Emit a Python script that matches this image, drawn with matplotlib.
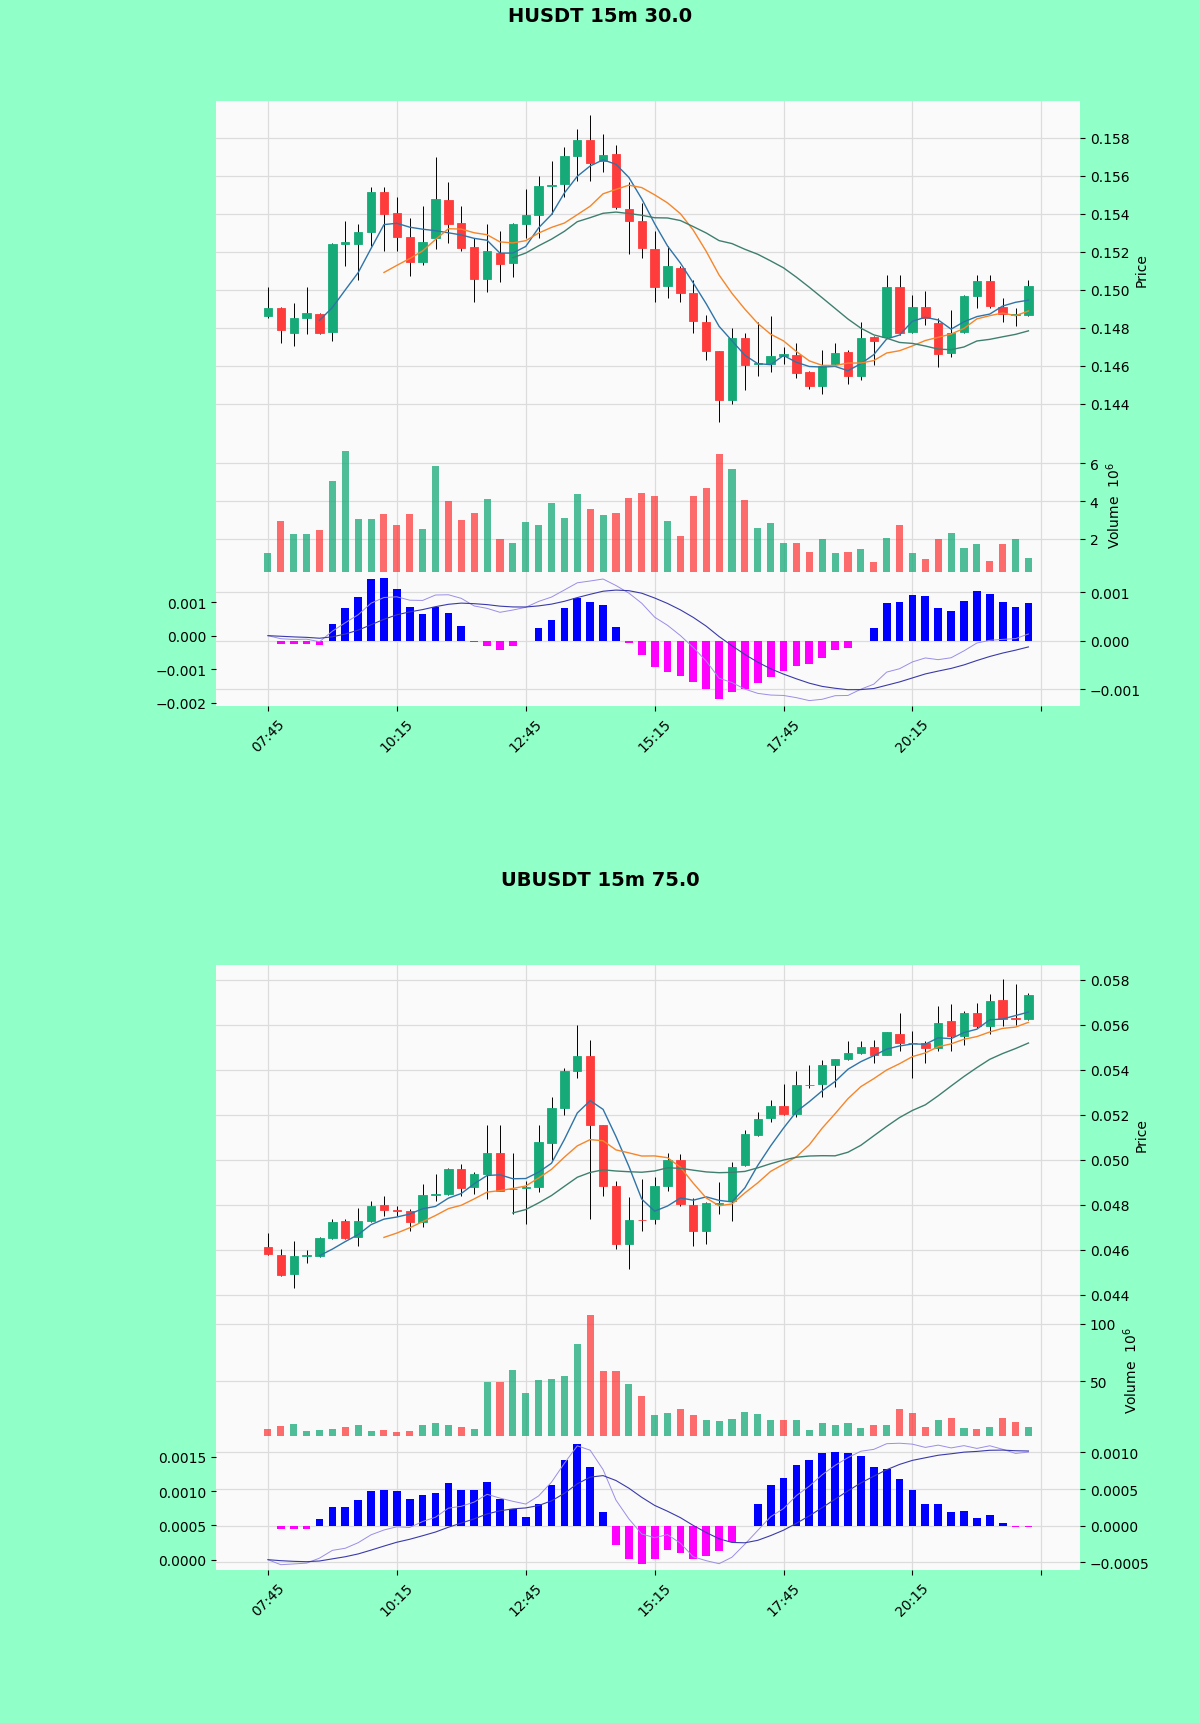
import numpy as np
import pandas as pd
import matplotlib
matplotlib.use("Agg")
import matplotlib.pyplot as plt
from matplotlib.ticker import MultipleLocator

BG = "#90ffc8"
FACE = "#fafafa"
UP = "#16aa78"
DOWN = "#fe3c3c"
GRID = "#dcdcdc"

tick_labels = ["07:45", "10:15", "12:45", "15:15", "17:45", "20:15", ""]

# ---- HUSDT 15m ----
h_open = [0.14863, 0.14903, 0.14774, 0.14854, 0.14873, 0.14776, 0.15242, 0.15242, 0.15306, 0.15516,
          0.15405, 0.15277, 0.15147, 0.15274, 0.15475, 0.15353, 0.15224, 0.15057, 0.15194, 0.15142,
          0.15348, 0.15394, 0.15545, 0.15556, 0.15706, 0.15786, 0.15676, 0.15715, 0.15424, 0.15362,
          0.15212, 0.15018, 0.15115, 0.14983, 0.14833, 0.14677, 0.14418, 0.14744, 0.14608, 0.14612,
          0.14651, 0.14656, 0.14568, 0.14492, 0.14607, 0.14674, 0.14547, 0.14753, 0.14753, 0.15013,
          0.14776, 0.14912, 0.14824, 0.14665, 0.14780, 0.14965, 0.15048, 0.14912, 0.14868, 0.14868]
h_high = [0.15013, 0.14910, 0.14930, 0.15014, 0.14880, 0.15245, 0.15362, 0.15345, 0.15542, 0.15540,
          0.15490, 0.15380, 0.15442, 0.15698, 0.15565, 0.15442, 0.15270, 0.15345, 0.15309, 0.15353,
          0.15530, 0.15601, 0.15680, 0.15751, 0.15848, 0.15918, 0.15821, 0.15760, 0.15565, 0.15459,
          0.15309, 0.15230, 0.15124, 0.15053, 0.14868, 0.14680, 0.14801, 0.14771, 0.14833, 0.14860,
          0.14700, 0.14718, 0.14572, 0.14683, 0.14718, 0.14683, 0.14833, 0.14755, 0.15080, 0.15080,
          0.14974, 0.14991, 0.14850, 0.14894, 0.14974, 0.15080, 0.15080, 0.14956, 0.14903, 0.15053]
h_low = [0.14854, 0.14718, 0.14704, 0.14767, 0.14767, 0.14730, 0.15124, 0.15053, 0.15230, 0.15203,
         0.15203, 0.15071, 0.15129, 0.15212, 0.15247, 0.15203, 0.14938, 0.14988, 0.15041, 0.15066,
         0.15274, 0.15274, 0.15398, 0.15486, 0.15574, 0.15574, 0.15618, 0.15424, 0.15186, 0.15168,
         0.14938, 0.14956, 0.14938, 0.14771, 0.14630, 0.14303, 0.14400, 0.14471, 0.14547, 0.14568,
         0.14612, 0.14536, 0.14480, 0.14453, 0.14603, 0.14506, 0.14524, 0.14603, 0.14744, 0.14760,
         0.14771, 0.14815, 0.14594, 0.14647, 0.14771, 0.14903, 0.14903, 0.14833, 0.14811, 0.14864]
h_close = [0.14903, 0.14788, 0.14850, 0.14880, 0.14774, 0.15242, 0.15250, 0.15306, 0.15516, 0.15401,
           0.15277, 0.15147, 0.15253, 0.15477, 0.15345, 0.15221, 0.15057, 0.15203, 0.15138, 0.15348,
           0.15394, 0.15548, 0.15552, 0.15706, 0.15786, 0.15666, 0.15710, 0.15433, 0.15362, 0.15221,
           0.15013, 0.15124, 0.14983, 0.14836, 0.14677, 0.14418, 0.14744, 0.14603, 0.14614, 0.14651,
           0.14660, 0.14564, 0.14492, 0.14600, 0.14668, 0.14547, 0.14748, 0.14730, 0.15013, 0.14771,
           0.14912, 0.14850, 0.14660, 0.14771, 0.14965, 0.15048, 0.14917, 0.14871, 0.14870, 0.15021]
h_vol = [1.22, 2.94, 2.23, 2.23, 2.44, 5.04, 6.68, 3.07, 3.03, 3.30,
         2.71, 3.30, 2.50, 5.84, 4.01, 3.00, 3.39, 4.13, 2.00, 1.75,
         2.91, 2.73, 3.88, 3.08, 4.40, 3.56, 3.24, 3.39, 4.15, 4.45,
         4.28, 2.94, 2.14, 4.28, 4.67, 6.50, 5.70, 4.06, 2.59, 2.85,
         1.75, 1.79, 1.31, 2.00, 1.22, 1.31, 1.43, 0.77, 2.05, 2.73,
         1.22, 0.90, 1.96, 2.28, 1.48, 1.70, 0.84, 1.70, 2.00, 0.99]
h_hist = [0.0, -0.00007, -0.00007, -0.00007, -0.00008, 0.00034, 0.00068, 0.00090, 0.00128, 0.00129,
          0.00107, 0.00069, 0.00055, 0.00069, 0.00057, 0.00030, -0.00003, -0.00010, -0.00020, -0.00010,
          -0.00001, 0.00026, 0.00043, 0.00067, 0.00088, 0.00079, 0.00074, 0.00028, -0.00005, -0.00030,
          -0.00055, -0.00064, -0.00074, -0.00086, -0.00100, -0.00121, -0.00107, -0.00100, -0.00088, -0.00076,
          -0.00062, -0.00053, -0.00048, -0.00035, -0.00020, -0.00015, 0.0, 0.00026, 0.00078, 0.00079,
          0.00094, 0.00092, 0.00067, 0.00062, 0.00083, 0.00103, 0.00097, 0.00081, 0.00069, 0.00078]

# ---- UBUSDT 15m ----
u_open = [0.04612, 0.04576, 0.04490, 0.04572, 0.04572, 0.04651, 0.04728, 0.04657, 0.04728, 0.04799,
          0.04776, 0.04773, 0.04721, 0.04845, 0.04848, 0.04960, 0.04878, 0.04937, 0.05030, 0.04868,
          0.04876, 0.04878, 0.05075, 0.05228, 0.05393, 0.05460, 0.05154, 0.04885, 0.04624, 0.04734,
          0.04736, 0.04885, 0.05000, 0.04800, 0.04681, 0.04803, 0.04818, 0.04975, 0.05109, 0.05184,
          0.05240, 0.05203, 0.05331, 0.05337, 0.05422, 0.05448, 0.05475, 0.05502, 0.05467, 0.05561,
          0.05521, 0.05519, 0.05497, 0.05616, 0.05549, 0.05654, 0.05594, 0.05710, 0.05630, 0.05624]
u_high = [0.04672, 0.04602, 0.04639, 0.04597, 0.04657, 0.04736, 0.04736, 0.04785, 0.04815, 0.04840,
          0.04796, 0.04780, 0.04893, 0.04937, 0.04962, 0.04982, 0.04945, 0.05154, 0.05154, 0.05030,
          0.04907, 0.05154, 0.05281, 0.05407, 0.05601, 0.05534, 0.05154, 0.04907, 0.04833, 0.04915,
          0.04925, 0.05030, 0.05024, 0.04830, 0.04811, 0.04900, 0.04990, 0.05131, 0.05213, 0.05266,
          0.05337, 0.05393, 0.05422, 0.05442, 0.05450, 0.05527, 0.05527, 0.05534, 0.05570, 0.05651,
          0.05572, 0.05527, 0.05684, 0.05691, 0.05661, 0.05699, 0.05736, 0.05803, 0.05781, 0.05740]
u_low = [0.04576, 0.04482, 0.04430, 0.04542, 0.04567, 0.04646, 0.04646, 0.04616, 0.04721, 0.04751,
         0.04751, 0.04684, 0.04699, 0.04818, 0.04845, 0.04840, 0.04848, 0.04825, 0.04860, 0.04758,
         0.04713, 0.04855, 0.04997, 0.05199, 0.05363, 0.04736, 0.04840, 0.04601, 0.04512, 0.04681,
         0.04713, 0.04863, 0.04796, 0.04616, 0.04624, 0.04758, 0.04728, 0.04970, 0.05106, 0.05169,
         0.05199, 0.05191, 0.05318, 0.05281, 0.05325, 0.05445, 0.05472, 0.05430, 0.05464, 0.05482,
         0.05363, 0.05430, 0.05482, 0.05482, 0.05512, 0.05587, 0.05557, 0.05594, 0.05601, 0.05620]
u_close = [0.04579, 0.04487, 0.04572, 0.04575, 0.04654, 0.04725, 0.04654, 0.04728, 0.04796, 0.04776,
           0.04772, 0.04721, 0.04845, 0.04848, 0.04960, 0.04875, 0.04937, 0.05030, 0.04863, 0.04872,
           0.04880, 0.05079, 0.05228, 0.05393, 0.05460, 0.05154, 0.04885, 0.04624, 0.04731, 0.04731,
           0.04885, 0.05000, 0.04803, 0.04681, 0.04806, 0.04806, 0.04967, 0.05113, 0.05181, 0.05240,
           0.05203, 0.05333, 0.05334, 0.05422, 0.05448, 0.05475, 0.05502, 0.05467, 0.05567, 0.05519,
           0.05519, 0.05497, 0.05609, 0.05549, 0.05654, 0.05594, 0.05706, 0.05627, 0.05625, 0.05731]
u_vol = [7.8, 10.8, 12.2, 6.4, 7.0, 8.4, 10.2, 11.3, 6.4, 7.6,
         5.8, 6.4, 11.3, 13.7, 11.3, 9.9, 7.8, 49.1, 49.1, 59.6,
         39.8, 50.6, 51.5, 54.4, 82.0, 108.0, 58.7, 58.7, 47.7, 36.9,
         20.1, 21.8, 25.3, 20.3, 15.7, 15.1, 16.6, 23.0, 20.9, 16.0,
         16.0, 15.7, 7.3, 13.1, 11.6, 13.1, 8.7, 11.3, 11.3, 25.3,
         21.8, 10.2, 16.0, 18.0, 8.7, 7.8, 10.2, 18.0, 14.5, 9.9]
u_hist = [0.0, -0.00004, -0.00004, -0.00004, 0.00009, 0.00025, 0.00026, 0.00035, 0.00047, 0.00048,
          0.00047, 0.00036, 0.00042, 0.00044, 0.00058, 0.00049, 0.00049, 0.00059, 0.00037, 0.00023,
          0.00012, 0.00030, 0.00056, 0.00089, 0.00112, 0.00080, 0.00018, -0.00027, -0.00045, -0.00052,
          -0.00046, -0.00033, -0.00037, -0.00045, -0.00041, -0.00035, -0.00022, -0.00001, 0.00030, 0.00056,
          0.00065, 0.00083, 0.00089, 0.00099, 0.00101, 0.00099, 0.00095, 0.00080, 0.00078, 0.00064,
          0.00048, 0.00030, 0.00030, 0.00018, 0.00020, 0.00010, 0.00015, 0.00003, -0.00002, -0.00002]

W, H = 1200, 1724


def rect(x0, y0, x1, y1):
    return [x0 / W, 1 - y1 / H, (x1 - x0) / W, (y1 - y0) / H]


def style(ax, xlabels=False):
    ax.set_facecolor(FACE)
    for s in ax.spines.values():
        s.set_visible(False)
    ax.set_xlim(-4.03, 63.0)
    ax.set_xticks(range(0, 61, 10))
    ax.grid(True, color=GRID, lw=0.9)
    ax.set_axisbelow(True)
    if xlabels:
        ax.set_xticklabels(tick_labels, rotation=45)
    else:
        ax.tick_params(axis="x", length=0, labelbottom=False)


def draw_chart(fig, off, title, o, hi, lo, c, vol, hist, plim, lmacd, rmacd, vstep, mstep):
    o, hi, lo, c = map(np.array, (o, hi, lo, c))
    vol = np.array(vol)
    hist = np.array(hist)
    x = np.arange(len(c))
    cols = np.where(c >= o, UP, DOWN)

    fig.text(0.5, 1 - (off + 16) / H, title, ha="center", va="center",
             fontsize=14, fontweight="bold")

    # price panel
    ax = fig.add_axes(rect(216, off + 101.7, 1080, off + 439))
    style(ax)
    ax.vlines(x, lo, hi, color="black", lw=0.7, zorder=2)
    ax.bar(x, np.abs(c - o), bottom=np.minimum(o, c), width=0.65,
           color=cols, edgecolor=cols, lw=0.6, zorder=3)
    s = pd.Series(c)
    for win, col in [(5, "#2f74a8"), (10, "#f5862a"), (20, "#3f7f6f")]:
        ax.plot(x, s.rolling(win).mean(), color=col, lw=1.0, zorder=4)
    ax.set_ylim(*plim)
    ax.yaxis.set_major_locator(MultipleLocator(0.002))
    ax.yaxis.tick_right()
    ax.yaxis.set_label_position("right")
    ax.set_ylabel("Price")

    # volume panel
    av = fig.add_axes(rect(216, off + 439, 1080, off + 573))
    style(av)
    av.bar(x, vol, width=0.55, color=cols, alpha=0.75, zorder=3)
    av.set_ylim(0.3 * vol.min(), 1.1 * vol.max())
    av.yaxis.set_major_locator(MultipleLocator(vstep))
    av.yaxis.tick_right()
    av.yaxis.set_label_position("right")
    av.set_ylabel("Volume  $10^{6}$")

    # MACD panel: histogram on the right axis, lines on the left
    am = fig.add_axes(rect(216, off + 573, 1080, off + 707))
    style(am, xlabels=True)
    am.bar(x, hist, width=0.6, color=np.where(hist >= 0, "#0000ff", "#ff00ff"), zorder=3)
    am.set_ylim(*rmacd)
    am.yaxis.set_major_locator(MultipleLocator(mstep))

    al = am.twinx()
    for sp in al.spines.values():
        sp.set_visible(False)
    dif = s.ewm(span=12, adjust=False).mean() - s.ewm(span=26, adjust=False).mean()
    dea = dif.ewm(span=9, adjust=False).mean()
    al.plot(x, dif, color="#9a8ee6", lw=0.7)
    al.plot(x, dea, color="#3a3aaa", lw=0.8)
    al.set_ylim(*lmacd)
    al.yaxis.set_major_locator(MultipleLocator(mstep))
    al.set_xlim(-4.03, 63.0)
    # twinx moves the host ticks to the left, so set both sides afterwards
    am.yaxis.tick_right()
    al.yaxis.tick_left()


fig = plt.figure(figsize=(12, 17.24), dpi=100, facecolor=BG)

draw_chart(fig, 0, "HUSDT 15m 30.0", h_open, h_high, h_low, h_close, h_vol, h_hist,
           (0.1422, 0.15995), (-0.0021, 0.0019), (-0.00135, 0.00142), 2, 0.001)
draw_chart(fig, 864.3, "UBUSDT 15m 75.0", u_open, u_high, u_low, u_close, u_vol, u_hist,
           (0.04366, 0.05866), (-0.000155, 0.0018), (-0.00061, 0.00122), 50, 0.0005)

fig.savefig("out.png", dpi=100, facecolor=BG)
